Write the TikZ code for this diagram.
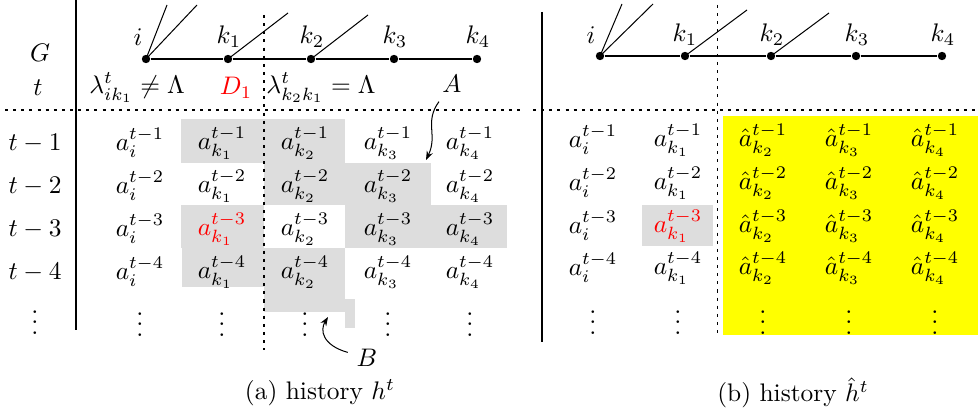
\documentclass[tikz,border=0pt]{standalone}
\usepackage{amsmath}
\usepackage{xcolor}
\usepackage{tikz}
\usetikzlibrary{arrows.meta}
\definecolor{cellgray}{RGB}{221,221,221}
\definecolor{hatyellow}{RGB}{255,255,0}

\begin{document}
\begin{tikzpicture}[
        x=0.3937pt, y=-0.3937pt,
        agent/.style={circle, fill=black, inner sep=0pt, minimum size=3.3pt},
        cell/.style={inner sep=0pt},
        sep/.style={dash pattern=on 1.2pt off 2pt},
        pointer/.style={-{Stealth[length=3.5pt, width=2.6pt]}, draw=black}
    ]
        \useasboundingbox (0,0) rectangle (979,417);

        % shaded cells, left panel
        \fill[cellgray] (181,119) rectangle (345,163);
        \fill[cellgray] (264,163) rectangle (431,205);
        \fill[cellgray] (181,205) rectangle (264,248);
        \fill[cellgray] (345,205) rectangle (507,248);
        \fill[cellgray] (182,248) rectangle (345,287);
        \fill[cellgray] (264,287) rectangle (345,312);
        \fill[cellgray] (345,299) rectangle (355,328);
        % shaded cells, right panel
        \fill[cellgray] (642,205) rectangle (713,246);
        \fill[hatyellow] (723,116) rectangle (978,335);

        % rules
        \draw (76,0) -- (76,330);
        \draw (542,12) -- (542,342);
        \draw[sep] (5,110) -- (525,110);
        \draw[sep] (533,110) -- (979,110);
        \draw[sep] (264,15) -- (264,350);
        \draw[sep] (717,5) -- (717,337);

        % graph, left panel
        \node[agent] (ia) at (146,59) {};
        \node[agent] (k1a) at (228,59) {};
        \node[agent] (k2a) at (311,59) {};
        \node[agent] (k3a) at (394,59) {};
        \node[agent] (k4a) at (477,59) {};
        \node (lia) at (138,37) {$i$};
        \node (lk1a) at (229,37) {$k_1$};
        \node (lk2a) at (312,37) {$k_2$};
        \node (lk3a) at (395,37) {$k_3$};
        \node (lk4a) at (478,37) {$k_4$};
        \coordinate (ia1) at (167,5);
        \coordinate (ia2) at (197,5);
        \coordinate (k1a1) at (288,13);
        \coordinate (k2a1) at (368,15);
        \draw (ia) -- (k1a) -- (k2a) -- (k3a) -- (k4a);
        \draw (ia.center) -- (ia1);
        \draw (ia.center) -- (ia2);
        \draw (k1a.center) -- (k1a1);
        \draw (k2a.center) -- (k2a1);

        % graph, right panel
        \node[agent] (ib) at (600,56) {};
        \node[agent] (k1b) at (685,56) {};
        \node[agent] (k2b) at (771,56) {};
        \node[agent] (k3b) at (856,56) {};
        \node[agent] (k4b) at (942,56) {};
        \node (lib) at (591,35) {$i$};
        \node (lk1b) at (685,35) {$k_1$};
        \node (lk2b) at (772,35) {$k_2$};
        \node (lk3b) at (857,35) {$k_3$};
        \node (lk4b) at (943,35) {$k_4$};
        \coordinate (ib1) at (622,4);
        \coordinate (ib2) at (653,4);
        \coordinate (k1b1) at (747,10);
        \coordinate (k2b1) at (829,13);
        \draw (ib) -- (k1b) -- (k2b) -- (k3b) -- (k4b);
        \draw (ib.center) -- (ib1);
        \draw (ib.center) -- (ib2);
        \draw (k1b.center) -- (k1b1);
        \draw (k2b.center) -- (k2b1);

        % header of left panel
        \node (rowG) at (40,53) {$G$};
        \node (rowt) at (38,88) {$t$};
        \node (lamik) at (137,88) {$\lambda^t_{ik_1}\neq\Lambda$};
        \node[text=red] (D1) at (236,88) {$D_1$};
        \node (lamkk) at (321,88) {$\lambda^t_{k_2k_1}=\Lambda$};
        \node (A) at (452,84) {$A$};

        % left table
        \node (r1) at (35,143) {$t-1$};
        \node (r2) at (35,186) {$t-2$};
        \node (r3) at (35,229) {$t-3$};
        \node (r4) at (35,272) {$t-4$};
        \node (r5) at (35,315) {$\vdots$};
        \node[cell] (ai1) at (140,143) {$a_i^{t-1}$};
        \node[cell] (ak11) at (222,143) {$a_{k_1}^{t-1}$};
        \node[cell] (ak21) at (305,143) {$a_{k_2}^{t-1}$};
        \node[cell] (ak31) at (388,143) {$a_{k_3}^{t-1}$};
        \node[cell] (ak41) at (470,143) {$a_{k_4}^{t-1}$};
        \node[cell] (ai2) at (140,186) {$a_i^{t-2}$};
        \node[cell] (ak12) at (222,186) {$a_{k_1}^{t-2}$};
        \node[cell] (ak22) at (305,186) {$a_{k_2}^{t-2}$};
        \node[cell] (ak32) at (388,186) {$a_{k_3}^{t-2}$};
        \node[cell] (ak42) at (470,186) {$a_{k_4}^{t-2}$};
        \node[cell] (ai3) at (140,229) {$a_i^{t-3}$};
        \node[cell, text=red] (ak13) at (222,229) {$a_{k_1}^{t-3}$};
        \node[cell] (ak23) at (305,229) {$a_{k_2}^{t-3}$};
        \node[cell] (ak33) at (388,229) {$a_{k_3}^{t-3}$};
        \node[cell] (ak43) at (470,229) {$a_{k_4}^{t-3}$};
        \node[cell] (ai4) at (140,272) {$a_i^{t-4}$};
        \node[cell] (ak14) at (222,272) {$a_{k_1}^{t-4}$};
        \node[cell] (ak24) at (305,272) {$a_{k_2}^{t-4}$};
        \node[cell] (ak34) at (388,272) {$a_{k_3}^{t-4}$};
        \node[cell] (ak44) at (470,272) {$a_{k_4}^{t-4}$};
        \node (ai5) at (140,317) {$\vdots$};
        \node (ak15) at (222,317) {$\vdots$};
        \node (ak25) at (305,317) {$\vdots$};
        \node (ak35) at (388,317) {$\vdots$};
        \node (ak45) at (470,317) {$\vdots$};

        % right table
        \node[cell] (bi1) at (593,140) {$a_i^{t-1}$};
        \node[cell] (bk11) at (678,140) {$a_{k_1}^{t-1}$};
        \node[cell] (bk21) at (763,140) {$\hat{a}_{k_2}^{t-1}$};
        \node[cell] (bk31) at (849,140) {$\hat{a}_{k_3}^{t-1}$};
        \node[cell] (bk41) at (935,140) {$\hat{a}_{k_4}^{t-1}$};
        \node[cell] (bi2) at (593,183) {$a_i^{t-2}$};
        \node[cell] (bk12) at (678,183) {$a_{k_1}^{t-2}$};
        \node[cell] (bk22) at (763,183) {$\hat{a}_{k_2}^{t-2}$};
        \node[cell] (bk32) at (849,183) {$\hat{a}_{k_3}^{t-2}$};
        \node[cell] (bk42) at (935,183) {$\hat{a}_{k_4}^{t-2}$};
        \node[cell] (bi3) at (593,226) {$a_i^{t-3}$};
        \node[cell, text=red] (bk13) at (678,226) {$a_{k_1}^{t-3}$};
        \node[cell] (bk23) at (763,226) {$\hat{a}_{k_2}^{t-3}$};
        \node[cell] (bk33) at (849,226) {$\hat{a}_{k_3}^{t-3}$};
        \node[cell] (bk43) at (935,226) {$\hat{a}_{k_4}^{t-3}$};
        \node[cell] (bi4) at (593,268) {$a_i^{t-4}$};
        \node[cell] (bk14) at (678,268) {$a_{k_1}^{t-4}$};
        \node[cell] (bk24) at (763,268) {$\hat{a}_{k_2}^{t-4}$};
        \node[cell] (bk34) at (849,268) {$\hat{a}_{k_3}^{t-4}$};
        \node[cell] (bk44) at (935,268) {$\hat{a}_{k_4}^{t-4}$};
        \node (bi5) at (593,315) {$\vdots$};
        \node (bk15) at (678,315) {$\vdots$};
        \node (bk25) at (763,315) {$\vdots$};
        \node (bk35) at (849,315) {$\vdots$};
        \node (bk45) at (935,315) {$\vdots$};

        % pointers
        \node (B) at (367,358) {$B$};
        \coordinate (pa) at (426,160);
        \coordinate (pb) at (328,317);
        \draw[pointer] (A) .. controls (424,122) and (438,135) .. (pa);
        \draw[pointer] (B) .. controls (322,345) and (320,330) .. (pb);

        % captions
        \node (capa) at (320,393) {(a) history $h^t$};
        \node (capb) at (793,393) {(b) history $\hat{h}^t$};
    \end{tikzpicture}
\end{document}
